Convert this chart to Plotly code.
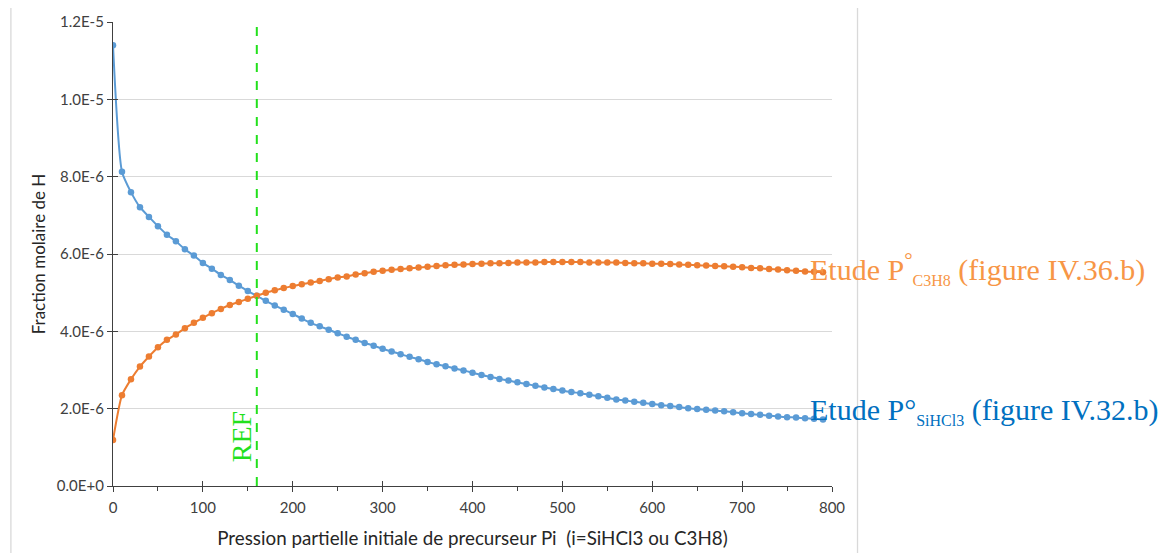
import plotly.graph_objects as go

pressure = [0, 10, 20, 30, 40, 50, 60, 70, 80, 90,
            100, 110, 120, 130, 140, 150, 160, 170, 180, 190,
            200, 210, 220, 230, 240, 250, 260, 270, 280, 290,
            300, 310, 320, 330, 340, 350, 360, 370, 380, 390,
            400, 410, 420, 430, 440, 450, 460, 470, 480, 490,
            500, 510, 520, 530, 540, 550, 560, 570, 580, 590,
            600, 610, 620, 630, 640, 650, 660, 670, 680, 690,
            700, 710, 720, 730, 740, 750, 760, 770, 780, 790]

# Etude P° SiHCl3 (values in 1E-6)
sihcl3 = [11.4, 8.13, 7.60, 7.21, 6.96, 6.72, 6.50, 6.33, 6.12, 5.96,
          5.77, 5.62, 5.46, 5.33, 5.18, 5.04, 4.92, 4.79, 4.67, 4.56,
          4.45, 4.33, 4.22, 4.13, 4.04, 3.95, 3.86, 3.78, 3.70, 3.63,
          3.55, 3.48, 3.41, 3.34, 3.28, 3.21, 3.15, 3.10, 3.04, 2.99,
          2.93, 2.87, 2.82, 2.77, 2.73, 2.68, 2.64, 2.59, 2.55, 2.51,
          2.47, 2.43, 2.40, 2.36, 2.32, 2.28, 2.24, 2.21, 2.18, 2.15,
          2.12, 2.09, 2.07, 2.04, 2.01, 1.99, 1.97, 1.95, 1.93, 1.91,
          1.88, 1.86, 1.84, 1.82, 1.80, 1.78, 1.77, 1.75, 1.74, 1.72]

# Etude P° C3H8 (values in 1E-6)
c3h8 = [1.19, 2.35, 2.76, 3.09, 3.35, 3.59, 3.78, 3.92, 4.08, 4.22,
        4.35, 4.47, 4.58, 4.68, 4.76, 4.84, 4.92, 5.00, 5.06, 5.12,
        5.17, 5.22, 5.26, 5.30, 5.35, 5.39, 5.42, 5.47, 5.50, 5.54,
        5.57, 5.59, 5.61, 5.63, 5.65, 5.67, 5.69, 5.71, 5.72, 5.73,
        5.74, 5.75, 5.76, 5.76, 5.77, 5.78, 5.78, 5.78, 5.79, 5.79,
        5.79, 5.79, 5.79, 5.78, 5.78, 5.78, 5.78, 5.77, 5.76, 5.76,
        5.75, 5.75, 5.74, 5.73, 5.72, 5.71, 5.70, 5.69, 5.68, 5.67,
        5.66, 5.64, 5.63, 5.61, 5.60, 5.58, 5.57, 5.55, 5.54, 5.53]

ref_pressure = 160

y_tickvals = [0, 2e-6, 4e-6, 6e-6, 8e-6, 1e-5, 1.2e-5]
y_ticktext = ["0.0E+0", "2.0E-6", "4.0E-6", "6.0E-6", "8.0E-6", "1.0E-5", "1.2E-5"]
x_tickvals = [0, 100, 200, 300, 400, 500, 600, 700, 800]

blue = "#5B9BD5"
orange = "#ED7D31"
axis_col = "#404040"
grid_col = "#D9D9D9"
font_family = "Lato, 'Open Sans', sans-serif"
serif = "'Liberation Serif', 'DejaVu Serif', serif"

fig = go.Figure()
fig.add_trace(go.Scatter(
    x=pressure, y=[v * 1e-6 for v in sihcl3], mode="lines+markers",
    line=dict(color=blue, width=2, shape="spline", smoothing=0.6),
    marker=dict(color=blue, size=6.5), showlegend=False))
fig.add_trace(go.Scatter(
    x=pressure, y=[v * 1e-6 for v in c3h8], mode="lines+markers",
    line=dict(color=orange, width=2, shape="spline", smoothing=0.6),
    marker=dict(color=orange, size=6.5), showlegend=False))

# dummy trace for overlay axes (inside ticks -> "cross" ticks)
fig.add_trace(go.Scatter(x=[None], y=[None], xaxis="x2", yaxis="y2",
                         showlegend=False, hoverinfo="skip"))

fig.update_layout(
    width=1168, height=553,
    margin=dict(l=105, r=344, t=14, b=75, autoexpand=False),
    paper_bgcolor="white", plot_bgcolor="white",
    font=dict(family=font_family, color=axis_col, size=14),
    xaxis=dict(range=[0, 800], tickvals=x_tickvals, showgrid=False, automargin=False,
               zeroline=False, showline=True, linecolor=axis_col, linewidth=1.3,
               ticks="outside", ticklen=5, tickcolor=axis_col, ticklabelstandoff=3,
               minor=dict(dtick=50, ticks="outside", ticklen=4, tickcolor=axis_col, showgrid=False),
               tickfont=dict(size=15, color=axis_col),
               title=dict(text="Pression partielle initiale de precurseur Pi  (i=SiHCl3 ou C3H8)",
                          font=dict(size=18.8, color="#262626"), standoff=16)),
    yaxis=dict(range=[0, 1.2e-5], tickvals=y_tickvals, ticktext=y_ticktext, automargin=False,
               showgrid=True, gridcolor=grid_col, gridwidth=1.3,
               zeroline=False, showline=True, linecolor=axis_col, linewidth=1.3,
               ticks="outside", ticklen=5, tickcolor=axis_col,
               tickfont=dict(size=15, color=axis_col),
               title=dict(text="Fraction molaire de H",
                          font=dict(size=17, color="#262626"), standoff=6)),
    xaxis2=dict(range=[0, 800], overlaying="x", anchor="y", tickvals=x_tickvals, automargin=False,
                showticklabels=False, ticks="inside", ticklen=5, tickcolor=axis_col,
                showgrid=False, zeroline=False, showline=False, side="bottom"),
    yaxis2=dict(range=[0, 1.2e-5], overlaying="y", anchor="x", tickvals=y_tickvals, automargin=False,
                showticklabels=False, ticks="inside", ticklen=5, tickcolor=axis_col,
                showgrid=False, zeroline=False, showline=False, side="left"),
)

# chart-area border
fig.add_shape(type="rect", xref="paper", yref="paper",
              x0=-0.142, x1=1.0355, y0=-0.2, y1=1.035,
              line=dict(color="#D9D9D9", width=1.3), fillcolor="rgba(0,0,0,0)", layer="below")

# REF dashed line
fig.add_shape(type="line", xref="x", yref="paper", x0=ref_pressure, x1=ref_pressure,
              y0=0, y1=1.005, line=dict(color="#22E01C", width=2, dash="dash"))

fig.add_annotation(x=ref_pressure, y=1.27e-6, xref="x", yref="y", text="REF",
                   textangle=-90, showarrow=False, xanchor="right", yanchor="middle",
                   xshift=3,
                   font=dict(family=serif, size=28, color="#22E01C"))

fig.add_annotation(x=0.967, y=5.62e-6, xref="paper", yref="y", xanchor="left", yanchor="middle",
                   text="Etude P<sup>°</sup><sub><span style='font-size:16px'>C3H8</span></sub> (figure IV.36.b)",
                   showarrow=False,
                   font=dict(family=serif, size=30, color="#F79646"))
fig.add_annotation(x=0.967, y=1.94e-6, xref="paper", yref="y", xanchor="left", yanchor="middle",
                   text="Etude P°<sub><span style='font-size:16px'>SiHCl3</span></sub> (figure IV.32.b)",
                   showarrow=False,
                   font=dict(family=serif, size=30, color="#0070C0"))

fig.write_html("out.html")
